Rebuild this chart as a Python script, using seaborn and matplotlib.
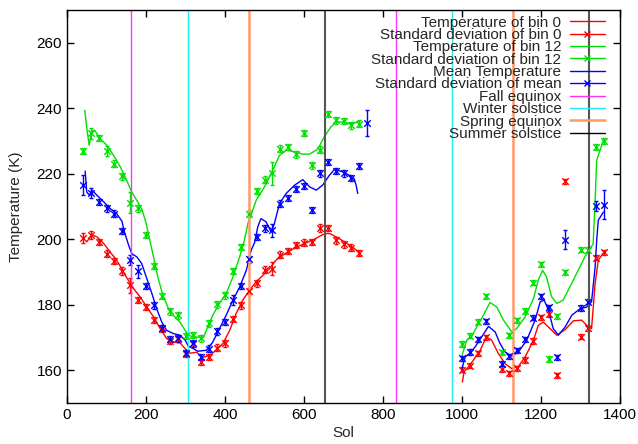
import matplotlib
matplotlib.use('Agg')
import matplotlib.pyplot as plt
from matplotlib.lines import Line2D
import seaborn as sns

# --- binned points (20-sol bins) ---
sol_pts = [40, 60, 80, 100, 120, 140, 160, 180, 200, 220, 240, 260, 280, 300, 320, 340, 360, 380,
           400, 420, 440, 460, 480, 500, 520, 540, 560, 580, 600, 620, 640, 660, 680, 700, 720, 740,
           1000, 1020, 1040, 1060, 1100, 1120, 1140, 1160, 1180, 1200, 1220, 1240, 1260, 1300, 1320, 1340, 1360]
sol_mean_pts = sol_pts[:36] + [760] + sol_pts[36:]

t_bin0 = [200.4, 201.3, 199.1, 195.6, 193.3, 190.2, 186.0, 181.4, 179.3, 175.3, 172.7, 168.9, 169.5, 165.0,
          168.0, 162.5, 164.1, 166.9, 168.2, 175.6, 179.8, 184.2, 186.5, 190.7, 191.0, 195.3, 196.4, 198.3,
          199.0, 199.2, 203.5, 203.5, 199.7, 198.4, 197.4, 195.8,
          160.2, 161.4, 165.2, 170.1, 160.4, 159.1, 160.6, 163.1, 168.9, 176.2, 177.2, 158.5, 217.7, 170.2,
          172.8, 194.4, 196.0]
sd_bin0 = [1.5, 1.2, 1.0, 1.0, 1.0, 1.2, 2.3, 1.0, 1.0, 1.0, 1.0, 1.0, 1.0, 1.0, 1.0, 1.0, 1.0, 1.0,
           1.0, 1.0, 1.0, 1.0, 1.0, 1.0, 2.0, 1.0, 1.0, 1.0, 1.0, 1.0, 1.2, 1.0, 1.0, 1.0, 1.0, 1.0,
           0.8, 0.8, 0.8, 0.8, 0.8, 0.8, 0.8, 0.8, 0.8, 0.8, 0.8, 0.8, 0.8, 0.8, 0.8, 0.8, 0.8]

t_bin12 = [226.9, 232.3, 230.9, 226.9, 223.1, 219.2, 211.2, 209.4, 201.3, 191.8, 182.7, 178.0, 176.8, 170.4,
           170.8, 169.7, 174.3, 180.1, 182.9, 190.3, 197.6, 207.8, 214.7, 218.2, 220.2, 227.7, 228.2, 225.9,
           232.5, 222.6, 227.4, 238.2, 236.3, 236.1, 234.8, 235.3,
           168.0, 170.5, 174.8, 182.6, 165.5, 170.7, 175.3, 178.1, 186.7, 192.4, 163.4, 176.5, 189.9, 196.8,
           196.8, 228.2, 230.0]
sd_bin12 = [1.0, 1.8, 1.0, 1.5, 1.0, 1.0, 3.3, 1.0, 1.0, 1.0, 1.0, 1.0, 1.0, 1.0, 1.0, 1.0, 1.0, 1.0,
            1.0, 1.0, 1.0, 1.0, 1.0, 1.0, 3.5, 1.0, 1.0, 1.0, 1.0, 1.0, 1.0, 1.0, 1.0, 1.0, 1.0, 1.0,
            0.8, 0.8, 0.8, 0.8, 0.8, 0.8, 0.8, 0.8, 0.8, 0.8, 0.8, 0.8, 0.8, 0.8, 0.8, 0.8, 0.8]

t_mean = [216.5, 214.1, 211.4, 209.4, 207.8, 202.5, 193.6, 190.2, 185.7, 179.8, 172.9, 169.5, 169.7, 165.3,
          168.2, 164.1, 166.6, 171.9, 174.7, 181.4, 185.7, 193.9, 200.7, 203.3, 202.7, 210.9, 212.6, 215.3,
          216.2, 208.9, 220.1, 223.6, 220.8, 220.1, 218.7, 222.3, 235.5,
          163.6, 165.6, 169.5, 175.0, 162.0, 164.3, 166.1, 169.4, 176.1, 182.6, 179.2, 164.0, 199.9, 179.0,
          180.9, 210.1, 210.6]
sd_mean = [3.0, 1.5, 1.0, 1.0, 1.0, 1.0, 1.5, 2.0, 1.0, 1.0, 1.0, 1.0, 1.0, 1.0, 1.0, 1.0, 1.0, 1.0,
           1.0, 1.5, 1.0, 1.0, 1.0, 1.0, 2.0, 1.0, 1.0, 1.0, 1.0, 1.0, 1.0, 1.0, 1.0, 1.0, 1.0, 1.0, 4.0,
           0.8, 0.8, 0.8, 0.8, 0.8, 0.8, 0.8, 0.8, 0.8, 0.8, 0.8, 0.8, 2.8, 0.8, 0.8, 1.5, 4.3]

# --- smoothed curves, first Mars year ---
c0_sol_y1 = [50, 63, 76, 93, 109, 126, 143, 160, 172, 185, 202, 219, 236, 252, 269, 286, 299, 311, 328,
             344, 361, 378, 395, 412, 428, 445, 462, 479, 496, 513, 529, 546, 563, 580, 597, 622, 647,
             660, 668, 689, 715, 737]
c0_t_y1 = [199.2, 201.4, 200.7, 198.7, 196.1, 193.6, 190.0, 186.5, 184.4, 182.4, 179.3, 176.3, 172.7,
           169.7, 168.6, 168.4, 166.6, 165.2, 165.5, 163.9, 164.6, 166.1, 168.2, 172.2, 177.3, 181.4,
           184.4, 187.0, 189.0, 191.1, 193.6, 195.1, 196.4, 197.5, 198.5, 199.7, 201.4, 201.8, 201.6,
           200.2, 198.2, 196.3]

c12_sol_y1 = [45, 50, 56, 63, 70, 84, 101, 118, 135, 151, 164, 181, 190, 200, 210, 220, 231, 244, 257,
              269, 286, 299, 307, 320, 345, 353, 369, 386, 403, 420, 437, 449, 458, 479, 500, 521, 538,
              555, 576, 597, 614, 635, 651, 668, 681, 698, 715, 731, 744]
c12_t_y1 = [239.4, 234.0, 228.7, 233.0, 233.3, 230.7, 228.7, 225.6, 222.1, 218.0, 214.4, 211.0, 209.0,
            205.0, 199.5, 194.1, 188.0, 182.4, 178.8, 176.8, 174.7, 172.2, 170.7, 170.2, 170.0, 172.2,
            176.8, 180.4, 183.4, 188.5, 194.6, 199.7, 204.8, 211.9, 216.0, 221.1, 225.6, 227.2, 226.7,
            226.0, 226.0, 227.5, 231.2, 234.3, 235.8, 235.8, 235.3, 235.6, 236.3]

cm_sol_y1 = [46, 50, 57, 63, 76, 93, 109, 126, 139, 146, 156, 164, 177, 189, 202, 215, 227, 240, 252,
             269, 286, 299, 307, 320, 331, 353, 369, 386, 403, 420, 437, 454, 466, 475, 483, 491, 504,
             517, 525, 538, 555, 576, 597, 614, 631, 647, 664, 677, 698, 715, 727, 732, 736]
cm_t_y1 = [220.8, 214.4, 213.4, 215.0, 213.4, 211.4, 209.4, 207.8, 205.5, 202.0, 198.2, 195.6, 194.6,
           192.6, 188.0, 183.4, 178.8, 174.7, 172.2, 171.2, 170.7, 169.2, 167.4, 166.6, 165.8, 166.1,
           168.6, 172.7, 176.8, 181.4, 185.4, 190.5, 196.6, 199.0, 203.8, 206.3, 205.3, 202.2, 204.8,
           210.9, 214.0, 216.5, 218.2, 216.0, 215.0, 216.5, 219.5, 221.3, 220.6, 219.5, 218.5, 216.5, 214.0]

# --- smoothed curves, second Mars year ---
c0_sol_y2 = [1001, 1005, 1016, 1029, 1046, 1062, 1075, 1092, 1109, 1126, 1143, 1160, 1181, 1193, 1206,
             1223, 1240, 1261, 1282, 1303, 1316, 1328, 1337, 1345, 1358]
c0_t_y2 = [156.4, 159.5, 161.0, 163.1, 166.1, 170.2, 169.2, 165.1, 162.0, 160.5, 161.2, 164.1, 169.2,
           173.7, 174.7, 172.7, 170.7, 172.4, 175.1, 175.3, 173.7, 172.7, 186.5, 193.6, 195.8]

c12_sol_y2 = [1000, 1012, 1024, 1037, 1054, 1071, 1088, 1105, 1126, 1138, 1160, 1181, 1193, 1204, 1214,
              1227, 1240, 1256, 1273, 1294, 1311, 1324, 1332, 1337, 1341, 1358]
c12_t_y2 = [164.5, 169.2, 170.2, 173.2, 176.8, 180.7, 179.3, 175.3, 171.7, 172.7, 176.3, 181.9, 187.5,
            190.5, 188.5, 182.4, 180.4, 181.4, 185.4, 190.5, 194.6, 197.2, 198.5, 211.9, 224.1, 230.2]

cm_sol_y2 = [1000, 1008, 1020, 1033, 1050, 1067, 1084, 1096, 1109, 1126, 1143, 1164, 1185, 1198, 1208,
             1219, 1231, 1244, 1261, 1278, 1299, 1316, 1328, 1337, 1341, 1345, 1358]
cm_t_y2 = [160.5, 164.1, 165.1, 167.1, 170.2, 173.4, 171.7, 168.2, 165.6, 164.3, 165.6, 169.2, 175.3,
           180.9, 181.4, 178.3, 172.7, 170.7, 173.2, 176.8, 178.8, 179.3, 180.9, 191.5, 199.7, 205.8, 208.3]

# --- seasons (sol) ---
fall_equinox = [163, 832]
winter_solstice = [307, 975]
spring_equinox = [461, 1128]
summer_solstice = [653, 1322]

RED, GREEN, BLUE = '#ff0000', '#00e000', '#0000ff'
MAGENTA, CYAN, ORANGE, GRAY = '#ff33ff', '#22eeee', '#ff9966', '#555555'

sns.set_style('ticks')
plt.rcParams['font.family'] = ['Liberation Sans', 'DejaVu Sans']

fig, ax = plt.subplots(figsize=(6.38, 4.44), dpi=100)
fig.subplots_adjust(left=67/638, right=620/638, bottom=1-403/444, top=1-10/444)

series = [
    (RED, c0_sol_y1, c0_t_y1, c0_sol_y2, c0_t_y2, sol_pts, t_bin0, sd_bin0),
    (GREEN, c12_sol_y1, c12_t_y1, c12_sol_y2, c12_t_y2, sol_pts, t_bin12, sd_bin12),
    (BLUE, cm_sol_y1, cm_t_y1, cm_sol_y2, cm_t_y2, sol_mean_pts, t_mean, sd_mean),
]
for col, sx1, ty1, sx2, ty2, sp, tp, sd in series:
    sns.lineplot(x=sx1, y=ty1, color=col, lw=1, ax=ax)
    sns.lineplot(x=sx2, y=ty2, color=col, lw=1, ax=ax)
    ax.errorbar(sp, tp, yerr=sd, fmt='none', ecolor=col, elinewidth=1, capsize=1.5, capthick=1)
    sns.scatterplot(x=sp, y=tp, color=col, marker='x', s=22, linewidth=1, ax=ax, zorder=3)

for s in fall_equinox:
    ax.axvline(s, color=MAGENTA, lw=1)
for s in winter_solstice:
    ax.axvline(s, color=CYAN, lw=1)
for s in spring_equinox:
    ax.axvline(s, color=ORANGE, lw=1.8)
for s in summer_solstice:
    ax.axvline(s, color=GRAY, lw=1.5)

ax.set_xlim(0, 1400)
ax.set_ylim(150, 270)
ax.set_xticks([0, 200, 400, 600, 800, 1000, 1200, 1400])
ax.set_yticks([160, 180, 200, 220, 240, 260])
ax.tick_params(direction='in', top=True, right=True, length=5, width=1, labelsize=11, colors='black')
for sp_ in ax.spines.values():
    sp_.set_visible(True)
    sp_.set_color('black')
    sp_.set_linewidth(1)
ax.set_xlabel('Sol', fontsize=11)
ax.set_ylabel('Temperature (K)', fontsize=11)
ax.xaxis.set_label_coords(0.5, -0.058)
ax.yaxis.set_label_coords(-0.08, 0.5)

handles = [
    Line2D([], [], color=RED, lw=1),
    Line2D([], [], color=RED, lw=1, marker='x', markersize=5),
    Line2D([], [], color=GREEN, lw=1),
    Line2D([], [], color=GREEN, lw=1, marker='x', markersize=5),
    Line2D([], [], color=BLUE, lw=1),
    Line2D([], [], color=BLUE, lw=1, marker='x', markersize=5),
    Line2D([], [], color=MAGENTA, lw=1),
    Line2D([], [], color=CYAN, lw=1),
    Line2D([], [], color=ORANGE, lw=1.8),
    Line2D([], [], color='black', lw=1),
]
labels = ['Temperature of bin 0', 'Standard deviation of bin 0', 'Temperature of bin 12',
          'Standard deviation of bin 12', 'Mean Temperature', 'Standard deviation of mean',
          'Fall equinox', 'Winter solstice', 'Spring equinox', 'Summer solstice']
ax.legend(handles, labels, loc='upper right', bbox_to_anchor=(605/638, 1-15.5/444),
          bbox_transform=fig.transFigure, frameon=False, markerfirst=False, fontsize=11,
          handlelength=2.3, handletextpad=0.55, labelspacing=-0.105, borderpad=0, borderaxespad=0)

fig.savefig('out.png', dpi=100)
